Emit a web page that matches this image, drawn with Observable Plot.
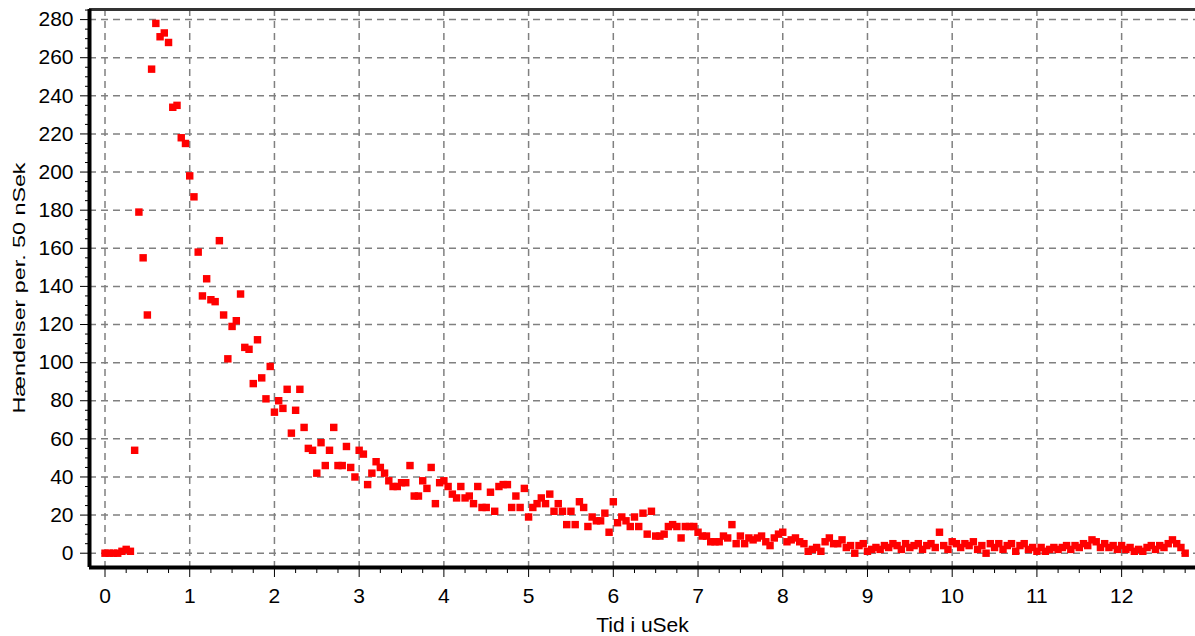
<!DOCTYPE html>
<html><head><meta charset="utf-8">
<script src="https://cdn.jsdelivr.net/npm/d3@7"></script>
<script src="https://cdn.jsdelivr.net/npm/@observablehq/plot@0.6"></script>
<style>body{margin:0;background:#fff;overflow:hidden}</style>
</head><body><div id="chart"></div>
<script>
const times = [
0,0.05,0.1,0.15,0.2,0.25,0.3,0.35,0.4,0.45,0.5,0.55,0.6,0.65,0.7,0.75,0.8,0.85,0.9,0.95,
1,1.05,1.1,1.15,1.2,1.25,1.3,1.35,1.4,1.45,1.5,1.55,1.6,1.65,1.7,1.75,1.8,1.85,1.9,1.95,
2,2.05,2.1,2.15,2.2,2.25,2.3,2.35,2.4,2.45,2.5,2.55,2.6,2.65,2.7,2.75,2.8,2.85,2.9,2.95,
3,3.05,3.1,3.15,3.2,3.25,3.3,3.35,3.4,3.45,3.5,3.55,3.6,3.65,3.7,3.75,3.8,3.85,3.9,3.95,
4,4.05,4.1,4.15,4.2,4.25,4.3,4.35,4.4,4.45,4.5,4.55,4.6,4.65,4.7,4.75,4.8,4.85,4.9,4.95,
5,5.05,5.1,5.15,5.2,5.25,5.3,5.35,5.4,5.45,5.5,5.55,5.6,5.65,5.7,5.75,5.8,5.85,5.9,5.95,
6,6.05,6.1,6.15,6.2,6.25,6.3,6.35,6.4,6.45,6.5,6.55,6.6,6.65,6.7,6.75,6.8,6.85,6.9,6.95,
7,7.05,7.1,7.15,7.2,7.25,7.3,7.35,7.4,7.45,7.5,7.55,7.6,7.65,7.7,7.75,7.8,7.85,7.9,7.95,
8,8.05,8.1,8.15,8.2,8.25,8.3,8.35,8.4,8.45,8.5,8.55,8.6,8.65,8.7,8.75,8.8,8.85,8.9,8.95,
9,9.05,9.1,9.15,9.2,9.25,9.3,9.35,9.4,9.45,9.5,9.55,9.6,9.65,9.7,9.75,9.8,9.85,9.9,9.95,
10,10.05,10.1,10.15,10.2,10.25,10.3,10.35,10.4,10.45,10.5,10.55,10.6,10.65,10.7,10.75,10.8,10.85,10.9,10.95,
11,11.05,11.1,11.15,11.2,11.25,11.3,11.35,11.4,11.45,11.5,11.55,11.6,11.65,11.7,11.75,11.8,11.85,11.9,11.95,
12,12.05,12.1,12.15,12.2,12.25,12.3,12.35,12.4,12.45,12.5,12.55,12.6,12.65,12.7,12.75
];
const counts = [
0,0,0,0,1,2,1,54,179,155,125,254,278,271,273,268,234,235,218,215,
198,187,158,135,144,133,132,164,125,102,119,122,136,108,107,89,112,92,81,98,
74,80,76,86,63,75,86,66,55,54,42,58,46,54,66,46,46,56,45,40,
54,52,36,42,48,45,42,38,35,35,37,37,46,30,30,38,34,45,26,37,
38,35,31,29,35,29,30,26,35,24,24,32,22,35,36,36,24,30,24,34,
19,24,26,29,26,31,22,26,22,15,22,15,27,24,14,19,17,17,21,11,
27,16,19,17,14,19,14,21,10,22,9,9,10,14,15,14,8,14,14,14,
11,9,9,6,6,6,9,8,15,5,9,5,8,7,8,9,6,4,8,10,
11,6,7,8,6,5,1,2,3,1,6,8,5,5,7,3,4,0,4,5,
1,2,3,2,4,3,5,4,2,5,3,4,5,2,4,5,3,11,4,2,
6,5,3,5,4,6,2,4,0,5,3,5,2,4,5,1,4,5,2,3,
1,3,1,2,3,2,3,4,2,4,3,5,4,7,6,3,5,3,4,2,
4,2,3,1,2,1,3,4,2,4,3,5,7,5,3,0
];
const xTicks = [0,1,2,3,4,5,6,7,8,9,10,11,12];
const yTicks = [0,20,40,60,80,100,120,140,160,180,200,220,240,260,280];
const xTitle = "Tid i uSek";
const yTitle = "Hændelser per. 50 nSek";

const data = times.map((t, i) => ({t, n: counts[i]}));
const xDomain = [-0.183, 12.872];
const yDomain = [-7.5, 285.3];
const minorX = d3.range(0, 12.8, 0.25).filter(v => !xTicks.includes(v));
const minorY = d3.range(0, 286, 5).filter(v => !yTicks.includes(v));

const chart = Plot.plot({
  width: 1195, height: 636,
  marginLeft: 89, marginRight: 0, marginTop: 9, marginBottom: 69,
  style: {fontFamily: "'Liberation Sans', Arial, sans-serif", fontSize: "21px", background: "#fff", color: "#000"},
  x: {domain: xDomain},
  y: {domain: yDomain},
  marks: [
    Plot.gridX(xTicks, {stroke: "#808080", strokeOpacity: 1, strokeWidth: 1.5, strokeDasharray: "7,5"}),
    Plot.gridY(yTicks, {stroke: "#808080", strokeOpacity: 1, strokeWidth: 1.5, strokeDasharray: "7,5"}),
    Plot.dot(data, {x: "t", y: "n", symbol: "square", r: 4.2, fill: "#ff0000"}),
    Plot.ruleY([yDomain[1]], {stroke: "#333", strokeWidth: 3}),
    Plot.ruleX([xDomain[0]], {stroke: "#000", strokeWidth: 4}),
    Plot.ruleY([yDomain[0]], {stroke: "#000", strokeWidth: 4}),
    Plot.axisY(yTicks, {tickSize: 9, tickPadding: 7, fontSize: 21, label: null, tickFormat: d => String(d)}),
    Plot.axisY(minorY, {tickSize: 4, tickFormat: () => "", label: null}),
    Plot.axisX(xTicks, {tickSize: 10, tickPadding: 11, fontSize: 21, label: null, tickFormat: d => String(d)}),
    Plot.axisX(minorX, {tickSize: 6, tickFormat: () => "", label: null}),
    Plot.text([xTitle], {frameAnchor: "bottom", dy: 58, fontSize: 21, lineAnchor: "middle", fill: "#000"}),
    Plot.text([yTitle], {frameAnchor: "left", dx: -70, rotate: -90, fontSize: 16, lineAnchor: "middle", fill: "#000"})
  ]
});
d3.select(chart).selectAll("text").filter(function() { return this.textContent === yTitle; })
  .attr("text-anchor", "start").attr("x", -125)
  .attr("textLength", 251).attr("lengthAdjust", "spacingAndGlyphs");
document.getElementById("chart").appendChild(chart);
</script>
</body></html>
